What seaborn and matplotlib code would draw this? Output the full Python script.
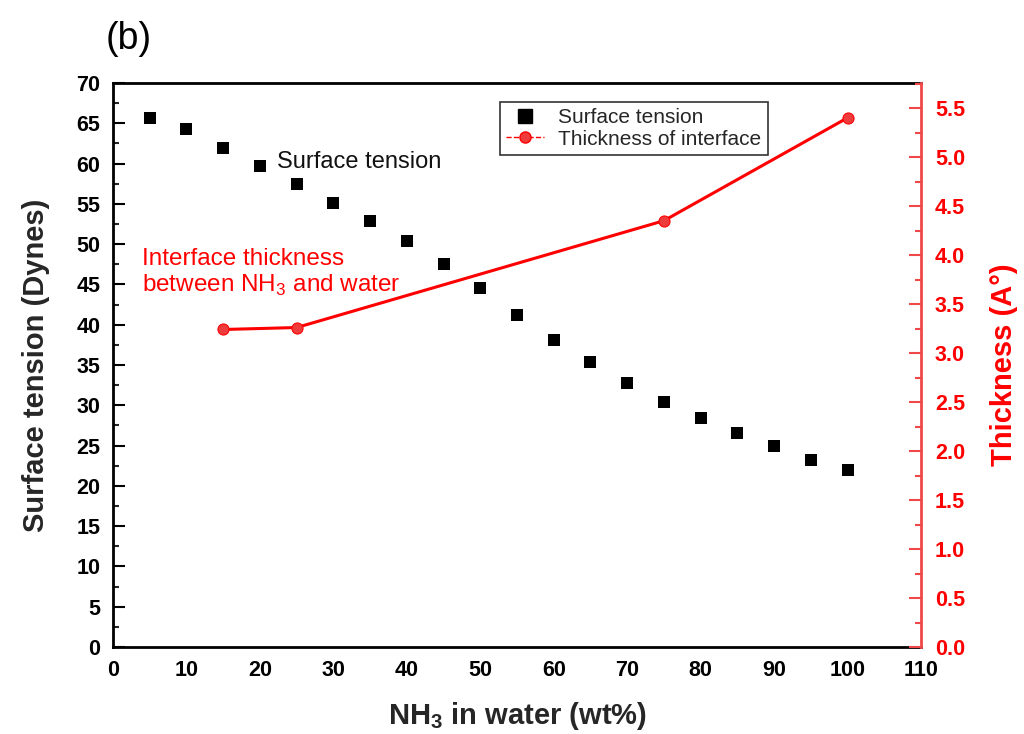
import matplotlib
matplotlib.use("Agg")
import matplotlib.pyplot as plt
from matplotlib.lines import Line2D
from matplotlib.ticker import MultipleLocator, FormatStrFormatter
import seaborn as sns
import pandas as pd

sns.set_theme(style="white")
plt.rcParams['font.family'] = ['Liberation Sans', 'DejaVu Sans']
plt.rcParams['mathtext.fontset'] = 'custom'
plt.rcParams['mathtext.rm'] = 'Liberation Sans'
plt.rcParams['mathtext.bf'] = 'Liberation Sans:bold'

# data
nh3_wt = [5, 10, 15, 20, 25, 30, 35, 40, 45, 50, 55, 60, 65, 70, 75, 80, 85, 90, 95, 100]
surface_tension = [65.6, 64.3, 61.9, 59.7, 57.5, 55.1, 52.9, 50.4, 47.5, 44.5, 41.2, 38.1, 35.4,
                   32.8, 30.4, 28.4, 26.6, 24.9, 23.2, 22.0]
thick_wt = [15, 25, 75, 100]
thickness = [3.24, 3.26, 4.35, 5.40]

df_st = pd.DataFrame({"wt": nh3_wt, "st": surface_tension})
df_th = pd.DataFrame({"wt": thick_wt, "th": thickness})

red = "#ff0000"
spine_red = "#f04848"
fig = plt.figure(figsize=(10.24, 7.34), dpi=100)
ax = fig.add_axes([0.1104, 0.1185, 0.7890, 0.7684])
ax2 = ax.twinx()

sns.scatterplot(data=df_st, x="wt", y="st", ax=ax, marker="s", s=85, color="black",
                edgecolor="black", linewidth=0, zorder=3)
sns.lineplot(data=df_th, x="wt", y="th", ax=ax2, color=red, linewidth=2.2, marker="o",
             markersize=8, markeredgecolor=red, markerfacecolor="#ee3b3b", zorder=3)

ax.set_xlim(0, 110)
ax.set_ylim(0, 70)
ax2.set_ylim(0, 5.755)

ax.xaxis.set_major_locator(MultipleLocator(10))
ax.xaxis.set_minor_locator(MultipleLocator(5))
ax.yaxis.set_major_locator(MultipleLocator(5))
ax.yaxis.set_minor_locator(MultipleLocator(2.5))
ax2.yaxis.set_major_locator(MultipleLocator(0.5))
ax2.yaxis.set_minor_locator(MultipleLocator(0.25))
ax2.yaxis.set_major_formatter(FormatStrFormatter("%.1f"))

ax.tick_params(axis="both", which="major", direction="in", length=8.5, width=1.5,
               labelsize=15.5, pad=9, colors="black")
ax.tick_params(axis="both", which="minor", direction="in", length=4.5, width=1.5)
ax.tick_params(axis="x", which="both", top=False)
ax.tick_params(axis="y", which="both", right=False)
ax2.tick_params(axis="y", which="major", direction="in", length=8.5, width=1.5,
                labelsize=15.5, pad=10, color=spine_red, labelcolor=red)
ax2.tick_params(axis="y", which="minor", direction="in", length=4.5, width=1.5, color=spine_red)

for lab in ax.get_xticklabels() + ax.get_yticklabels() + ax2.get_yticklabels():
    lab.set_fontweight("bold")

for sp in ["left", "bottom", "top"]:
    ax.spines[sp].set_color("black")
    ax.spines[sp].set_linewidth(2)
ax.spines["right"].set_visible(False)
for sp in ["left", "bottom", "top"]:
    ax2.spines[sp].set_visible(False)
ax2.spines["right"].set_color(spine_red)
ax2.spines["right"].set_linewidth(2)

ax.set_xlabel(r"NH$_\mathbf{3}$ in water (wt%)", fontsize=21, fontweight="bold", labelpad=14)
ax.set_ylabel("Surface tension (Dynes)", fontsize=21, fontweight="bold", labelpad=19)
ax2.set_ylabel("Thickness (A°)", fontsize=21, fontweight="bold", color=red, labelpad=18)

ax.text(22.3, 59.4, "Surface tension", fontsize=17, color="#111111", va="baseline")
ax.text(3.9, 44.1, "Interface thickness\nbetween NH$_3$ and water", fontsize=17.5, color=red,
        va="baseline", linespacing=1.15)

handles = [
    Line2D([], [], marker="s", color="black", linestyle="none", markersize=9.5),
    Line2D([], [], marker="o", color=red, linestyle="--", markersize=8,
           markerfacecolor="#ee3b3b", linewidth=1),
]
leg = ax.legend(handles, ["Surface tension", "Thickness of interface"], loc="upper left",
                bbox_to_anchor=(0.479, 0.966), fontsize=15, frameon=True, fancybox=False,
                borderpad=0.3, borderaxespad=0, handlelength=1.8, handletextpad=0.7,
                labelspacing=0.1)
leg.get_frame().set_edgecolor("black")
leg.get_frame().set_linewidth(1.2)

fig.text(0.103, 0.933, "(b)", fontsize=27, color="black")

fig.savefig("out.png", dpi=100)
